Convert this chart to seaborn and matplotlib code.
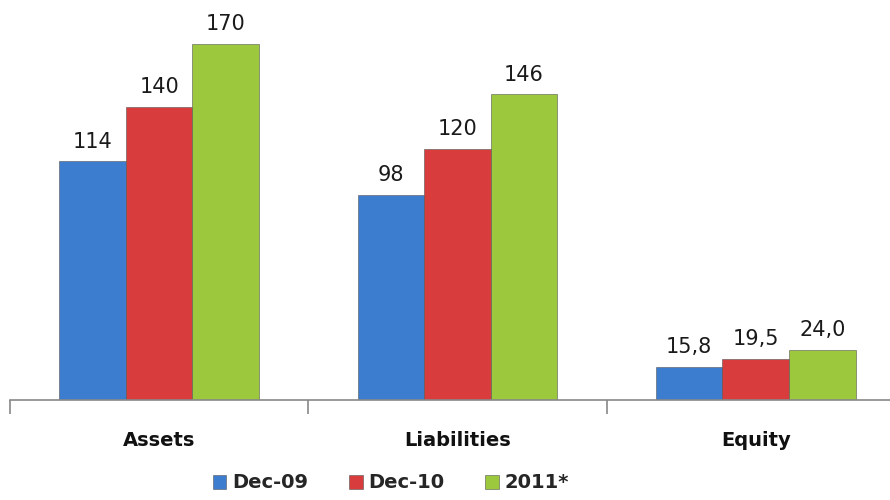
import pandas as pd
import seaborn as sns
import matplotlib
matplotlib.use("Agg")
import matplotlib.pyplot as plt

categories = ["Assets", "Liabilities", "Equity"]
periods = ["Dec-09", "Dec-10", "2011*"]
dec09 = [114, 98, 15.8]
dec10 = [140, 120, 19.5]
y2011 = [170, 146, 24.0]
colors = ["#3d7dd0", "#d83c3c", "#9cc83e"]


def fmt(v, cat):
    if cat == "Equity":
        return f"{v:.1f}".replace(".", ",")
    return f"{v:.0f}"


data = pd.DataFrame({
    "Category": categories * 3,
    "Period": [p for p in periods for _ in categories],
    "Value": dec09 + dec10 + y2011,
})

sns.set_theme(style="white")
plt.rcParams["font.family"] = ["DejaVu Sans"]

fig = plt.figure(figsize=(8.9, 5.0), dpi=100)
ax = fig.add_axes([10 / 890, 0.2, 880 / 890, 0.8])

sns.barplot(data=data, x="Category", y="Value", hue="Period", order=categories,
            hue_order=periods, palette=colors, width=0.67, gap=0,
            edgecolor="#555555", linewidth=0.4, saturation=1, ax=ax)

for cont, period in zip(ax.containers, periods):
    labels = [fmt(b.get_height(), c) for b, c in zip(cont, categories)]
    ax.bar_label(cont, labels=labels, padding=7, fontsize=15, color="#1a1a1a")

ax.set_xlim(-0.5, 2.45)
ax.set_ylim(0, 191)
ax.set_xlabel("")
ax.set_ylabel("")
ax.set_yticks([])
for s in ["top", "right", "left"]:
    ax.spines[s].set_visible(False)
ax.spines["bottom"].set_color("#888888")
ax.spines["bottom"].set_linewidth(1.2)

ax.set_xticks([0, 1, 2])
ax.set_xticklabels(categories, fontsize=14, fontweight="bold", color="#111111")
ax.tick_params(axis="x", length=0, pad=22)
ax.set_xticks([-0.5, 0.5, 1.5], minor=True)
ax.tick_params(axis="x", which="minor", length=10, width=1.2, color="#888888",
               direction="out", bottom=True)

ax.legend(loc="upper center", bbox_to_anchor=(0.433, -0.14), ncol=3, frameon=False,
          prop={"weight": "bold", "size": 14}, handlelength=0.7,
          handleheight=0.7, handletextpad=0.3, columnspacing=2.1)

fig.savefig("out.png", dpi=100)
